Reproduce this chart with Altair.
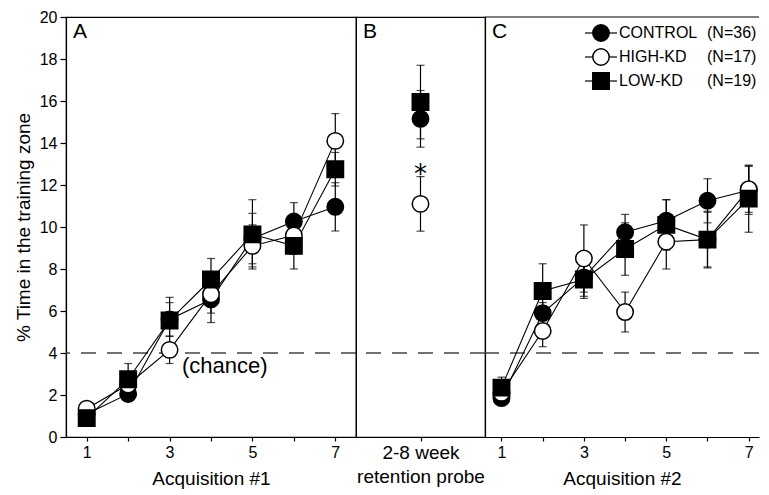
import altair as alt
import pandas as pd

# ---------------- data ----------------
groups = ["CONTROL", "HIGH-KD", "LOW-KD"]
n_labels = ["(N=36)", "(N=17)", "(N=19)"]
shapes = ["circle", "circle", "square"]
fills = ["black", "white", "black"]
panel_labels = ["A", "B", "C"]

trials = [1, 2, 3, 4, 5, 6, 7]

acq1_control = [1.1, 2.05, 5.6, 6.55, 9.45, 10.26, 10.96]
acq1_control_err = [0.3, 0.35, 0.8, 1.1, 1.2, 0.9, 1.15]
acq1_high = [1.35, 2.5, 4.15, 6.8, 9.1, 9.6, 14.1]
acq1_high_err = [0.3, 0.5, 0.65, 0.9, 1.0, 0.9, 1.3]
acq1_low = [0.9, 2.75, 5.55, 7.5, 9.65, 9.1, 12.75]
acq1_low_err = [0.3, 0.75, 1.1, 1.0, 1.65, 1.1, 0.8]

probe_values = [15.15, 11.1, 15.95]
probe_err = [1.35, 1.3, 1.75]

acq2_control = [1.85, 5.9, 7.6, 9.75, 10.3, 11.25, 11.75]
acq2_control_err = [0.3, 0.5, 0.9, 0.85, 1.0, 1.05, 1.15]
acq2_high = [2.1, 5.05, 8.5, 5.95, 9.3, 9.4, 11.8]
acq2_high_err = [0.4, 0.75, 1.6, 0.95, 1.3, 1.3, 1.1]
acq2_low = [2.35, 6.95, 7.5, 8.95, 10.1, 9.4, 11.35]
acq2_low_err = [0.5, 1.3, 0.9, 1.25, 1.2, 1.35, 1.6]

chance_level = 4
chance_label = "(chance)"
chance_label_pos = [3.3, 3.4]
star_label = "*"
star_pos = [1, 12.1]
y_ticks = list(range(0, 21, 2))


def long_df(xs, vals_list, errs_list):
    rows = []
    for g, vals, errs in zip(groups, vals_list, errs_list):
        for x, v, e in zip(xs, vals, errs):
            rows.append(dict(series=g, x=x, y=v, lo=v - e, hi=v + e))
    return pd.DataFrame(rows)


df_a = long_df(trials, [acq1_control, acq1_high, acq1_low],
               [acq1_control_err, acq1_high_err, acq1_low_err])
df_b = pd.DataFrame(dict(series=groups, x=[1, 1, 1], y=probe_values,
                         lo=[v - e for v, e in zip(probe_values, probe_err)],
                         hi=[v + e for v, e in zip(probe_values, probe_err)]))
df_c = long_df(trials, [acq2_control, acq2_high, acq2_low],
               [acq2_control_err, acq2_high_err, acq2_low_err])

# ---------------- styling ----------------
FONT = "Liberation Sans"
H = 420
W_A, W_B, W_C = 290, 129, 274

yscale = alt.Scale(domain=[0, 20], nice=False, zero=False)
shape_enc = alt.Shape("series:N", scale=alt.Scale(domain=groups, range=shapes), legend=None)
fill_enc = alt.Fill("series:N", scale=alt.Scale(domain=groups, range=fills), legend=None)

odd_expr = "datum.value % 2 == 1 ? datum.label : ''"


def panel(df, xscale, xaxis, yaxis, label, draw_lines=True):
    x = alt.X("x:Q", scale=xscale, axis=xaxis)
    chance = alt.Chart(pd.DataFrame({"v": [chance_level]})).mark_rule(
        color="#444444", strokeWidth=1.3, strokeDash=[15, 11]
    ).encode(y=alt.Y("v:Q", scale=yscale, axis=yaxis))
    err = alt.Chart(df).mark_errorbar(ticks=True, size=8, thickness=1.2, color="black").encode(
        x=x, y=alt.Y("lo:Q", scale=yscale, axis=yaxis), y2="hi:Q"
    )
    layers = [chance, err]
    if draw_lines:
        lines = alt.Chart(df).mark_line(color="black", strokeWidth=1.1).encode(
            x=x, y=alt.Y("y:Q", scale=yscale, axis=yaxis), detail="series:N", order="x:Q"
        )
        layers.append(lines)
    pts = alt.Chart(df).mark_point(filled=True, stroke="black", strokeWidth=1.5,
                                   size=270, opacity=1).encode(
        x=x, y=alt.Y("y:Q", scale=yscale, axis=yaxis), shape=shape_enc, fill=fill_enc
    )
    layers.append(pts)
    lab = alt.Chart(pd.DataFrame({"t": [label]})).mark_text(
        align="left", baseline="top", fontSize=21, font=FONT, color="black"
    ).encode(text="t:N", x=alt.value(7), y=alt.value(4))
    layers.append(lab)
    return layers


yaxis_a = alt.Axis(values=y_ticks, tickSize=6, labelPadding=3, titlePadding=6,
                   title="% Time in the training zone")
xaxis_a = alt.Axis(values=trials, labelExpr=odd_expr, tickSize=4, labelPadding=3,
                   titlePadding=9, title="Acquisition #1")
layers_a = panel(df_a, alt.Scale(domain=[0.5, 7.5], nice=False, zero=False),
                 xaxis_a, yaxis_a, panel_labels[0])
chance_txt = alt.Chart(pd.DataFrame({"t": [chance_label], "x": [chance_label_pos[0]],
                                     "y": [chance_label_pos[1]]})).mark_text(
    align="left", baseline="middle", fontSize=22, font=FONT, color="black"
).encode(text="t:N", x=alt.X("x:Q"), y=alt.Y("y:Q", scale=yscale, axis=yaxis_a))
chart_a = alt.layer(*layers_a, chance_txt).properties(width=W_A, height=H)

xaxis_b = alt.Axis(values=[1], labels=False, tickSize=4, titlePadding=2,
                   title=["2-8 week", "retention probe"], titleLineHeight=24)
layers_b = panel(df_b, alt.Scale(domain=[0, 2], nice=False, zero=False),
                 xaxis_b, None, panel_labels[1], draw_lines=False)
star = alt.Chart(pd.DataFrame({"t": [star_label], "x": [star_pos[0]], "y": [star_pos[1]]})).mark_text(
    align="center", baseline="alphabetic", fontSize=26, font="DejaVu Sans", color="black"
).encode(text="t:N", x=alt.X("x:Q"), y=alt.Y("y:Q", scale=yscale, axis=None))
chart_b = alt.layer(*layers_b, star).properties(width=W_B, height=H)

yaxis_c = alt.Axis(labels=False, ticks=False, domain=True, title=None)
xaxis_c = alt.Axis(values=trials, labelExpr=odd_expr, tickSize=4, labelPadding=3,
                   titlePadding=9, title="Acquisition #2")
layers_c = panel(df_c, alt.Scale(domain=[0.6, 7.25], nice=False, zero=False),
                 xaxis_c, yaxis_c, panel_labels[2])
top_rule = alt.Chart(pd.DataFrame({"v": [20]})).mark_rule(color="black", strokeWidth=1.2).encode(
    y=alt.Y("v:Q", scale=yscale, axis=yaxis_c)
)
main_c = alt.layer(top_rule, *layers_c)

legend_df = pd.DataFrame({"series": groups, "label": groups, "n": n_labels,
                          "row": list(range(len(groups)))})
ly = alt.Y("row:Q", scale=alt.Scale(domain=[0, 2], range=[16, 64]), axis=None)
leg_base = alt.Chart(legend_df)
leg_stub = leg_base.mark_rule(color="black", strokeWidth=1.2).encode(
    x=alt.value(100), x2=alt.value(132), y=ly)
leg_pts = leg_base.mark_point(filled=True, stroke="black", strokeWidth=1.5, size=270,
                              opacity=1).encode(x=alt.value(116), y=ly, shape=shape_enc, fill=fill_enc)
leg_name = leg_base.mark_text(align="left", baseline="middle", fontSize=16, font=FONT,
                              color="black").encode(x=alt.value(134), y=ly, text="label:N")
leg_n = leg_base.mark_text(align="left", baseline="middle", fontSize=16, font=FONT,
                           color="black").encode(x=alt.value(222), y=ly, text="n:N")
legend_layer = alt.layer(leg_stub, leg_pts, leg_name, leg_n)

chart_c = alt.layer(main_c, legend_layer).resolve_scale(y="independent").properties(
    width=W_C, height=H, view=alt.ViewBackground(stroke="transparent")
)

chart = alt.hconcat(chart_a, chart_b, chart_c, spacing=0, bounds="flush").properties(
    padding={"left": 5, "top": 0, "right": 0, "bottom": 0}
).configure(font=FONT).configure_view(
    stroke="black", strokeWidth=1.2
).configure_axis(
    domainColor="black", tickColor="black", labelColor="black", titleColor="black",
    labelFont=FONT, titleFont=FONT, labelFontSize=16, titleFontSize=19,
    titleFontWeight="normal", grid=False, domainWidth=1.2, tickWidth=1.2
)

chart.save("out.html", embed_options={"renderer": "svg", "actions": False})
